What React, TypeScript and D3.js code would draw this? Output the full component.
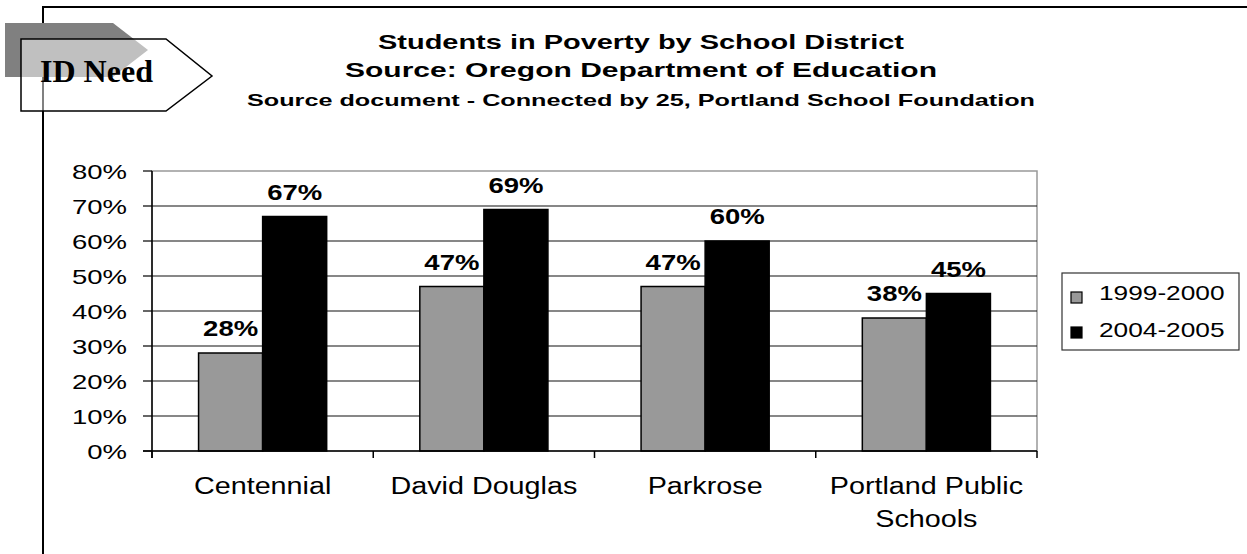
import React from "react";
import * as d3 from "d3";

const categories = ["Centennial", "David Douglas", "Parkrose", "Portland Public\nSchools"];
const seriesNames = ["1999-2000", "2004-2005"];
const values1999 = [0.28, 0.47, 0.47, 0.38];
const values2004 = [0.67, 0.69, 0.6, 0.45];
const yTicks = [0, 0.1, 0.2, 0.3, 0.4, 0.5, 0.6, 0.7, 0.8];
const titleLines = [
  "Students in Poverty by School District",
  "Source: Oregon Department of Education",
  "Source document - Connected by 25, Portland School Foundation",
];
const badgeText = "ID Need";

const FONT = "'Liberation Sans', Arial, sans-serif";
const SERIF = "'Liberation Serif', 'Times New Roman', serif";
const seriesFill = ["#999999", "#000000"];

function SText(props: any) {
  const { x, y, sx = 1.3, anchor = "middle", size = 18, weight = "normal", children } = props;
  return (
    <text
      transform={`translate(${x},${y}) scale(${sx},1)`}
      textAnchor={anchor}
      fontSize={size}
      fontWeight={weight}
      fontFamily={FONT}
      fill="#000"
    >
      {children}
    </text>
  );
}

export default function App() {
  const W = 1247, H = 554;
  const plot = { left: 152, right: 1037, top: 171, bottom: 451 };

  const x = d3.scaleBand<string>().domain(categories).range([plot.left, plot.right]).padding(0);
  const xs = d3.scaleBand<string>().domain(seriesNames).range([0, x.bandwidth()]).paddingInner(0).paddingOuter(0.727);
  const y = d3.scaleLinear().domain([0, 0.8]).range([plot.bottom, plot.top]);
  const fmt = d3.format(".0%");

  const seriesValues = [values1999, values2004];

  const titleWidths = [526, 592, 788];
  const titleY = [49, 77, 106];
  const titleSize = [21, 21, 17];
  const titleCx = 641;

  const boundaries = [...categories.map((c) => x(c) as number), plot.right];

  return (
    <svg width={W} height={H} style={{ position: "absolute", left: 0, top: 0, background: "#fff" }}>
      <rect x={0} y={0} width={W} height={H} fill="#fff" />
      {/* outer frame */}
      <line x1={43} y1={7} x2={W} y2={7} stroke="#000" strokeWidth={2} />
      <line x1={43} y1={6} x2={43} y2={H} stroke="#000" strokeWidth={2} />

      {/* badge */}
      <polygon points="5,23 113,23 148,50 113,77 5,77" fill="#808080" />
      <polygon points="21,39 166,39 212,76 166,111 21,111" fill="#fff" fillOpacity={0.5} stroke="#000" strokeWidth={1.5} />
      <text x={40} y={82} fontFamily={SERIF} fontWeight="bold" fontSize={31} fill="#000" textLength={113} lengthAdjust="spacingAndGlyphs">
        {badgeText}
      </text>

      {/* titles */}
      {titleLines.map((t, i) => (
        <text
          key={i}
          x={titleCx}
          y={titleY[i]}
          textAnchor="middle"
          fontFamily={FONT}
          fontWeight="bold"
          fontSize={titleSize[i]}
          textLength={titleWidths[i]}
          lengthAdjust="spacingAndGlyphs"
        >
          {t}
        </text>
      ))}

      {/* plot area */}
      <rect x={plot.left} y={plot.top} width={plot.right - plot.left} height={plot.bottom - plot.top} fill="#fff" stroke="#999" strokeWidth={1.5} />
      {yTicks.map((t) => (
        <g key={t}>
          {t > 0 && t < 0.8 && (
            <line x1={plot.left} x2={plot.right} y1={y(t)} y2={y(t)} stroke="#111" strokeWidth={1.2} />
          )}
          <line x1={plot.left - 9} x2={plot.left} y1={y(t)} y2={y(t)} stroke="#000" strokeWidth={1.2} />
          <SText x={127} y={y(t) + 7.5} anchor="end" size={21} sx={1.31}>
            {fmt(t)}
          </SText>
        </g>
      ))}

      {/* bars */}
      {categories.map((c, ci) =>
        seriesNames.map((s, si) => {
          const v = seriesValues[si][ci];
          const bx = (x(c) as number) + (xs(s) as number);
          return (
            <rect
              key={c + s}
              x={bx}
              y={y(v)}
              width={xs.bandwidth()}
              height={plot.bottom - y(v)}
              fill={seriesFill[si]}
              stroke="#000"
              strokeWidth={1.5}
            />
          );
        })
      )}

      {/* data labels */}
      {categories.map((c, ci) =>
        seriesNames.map((s, si) => {
          const v = seriesValues[si][ci];
          const cx = (x(c) as number) + (xs(s) as number) + xs.bandwidth() / 2;
          return (
            <SText key={"l" + c + s} x={cx} y={y(v) - 17} size={22} sx={1.25} weight="bold">
              {fmt(v)}
            </SText>
          );
        })
      )}

      {/* axes */}
      <line x1={plot.left} x2={plot.left} y1={plot.top} y2={plot.bottom + 7} stroke="#000" strokeWidth={1.5} />
      <line x1={plot.left - 9} x2={plot.right} y1={plot.bottom} y2={plot.bottom} stroke="#000" strokeWidth={1.5} />
      {boundaries.map((b, i) => (
        <line key={i} x1={b} x2={b} y1={plot.bottom} y2={plot.bottom + 7} stroke="#000" strokeWidth={1.5} />
      ))}

      {/* category labels */}
      {categories.map((c) => {
        const cx = (x(c) as number) + x.bandwidth() / 2;
        return c.split("\n").map((line, li) => (
          <SText key={c + li} x={cx} y={494 + li * 33} size={23} sx={1.25}>
            {line}
          </SText>
        ));
      })}

      {/* legend */}
      <rect x={1062} y={273} width={177} height={77} fill="#fff" stroke="#333" strokeWidth={1.2} />
      {seriesNames.map((s, i) => (
        <g key={s}>
          <rect x={1071} y={292 + i * 35} width={11} height={11} fill={seriesFill[i]} stroke="#000" strokeWidth={1.2} />
          <SText x={1099} y={300 + i * 37} anchor="start" size={21} sx={1.25}>
            {s}
          </SText>
        </g>
      ))}
    </svg>
  );
}
